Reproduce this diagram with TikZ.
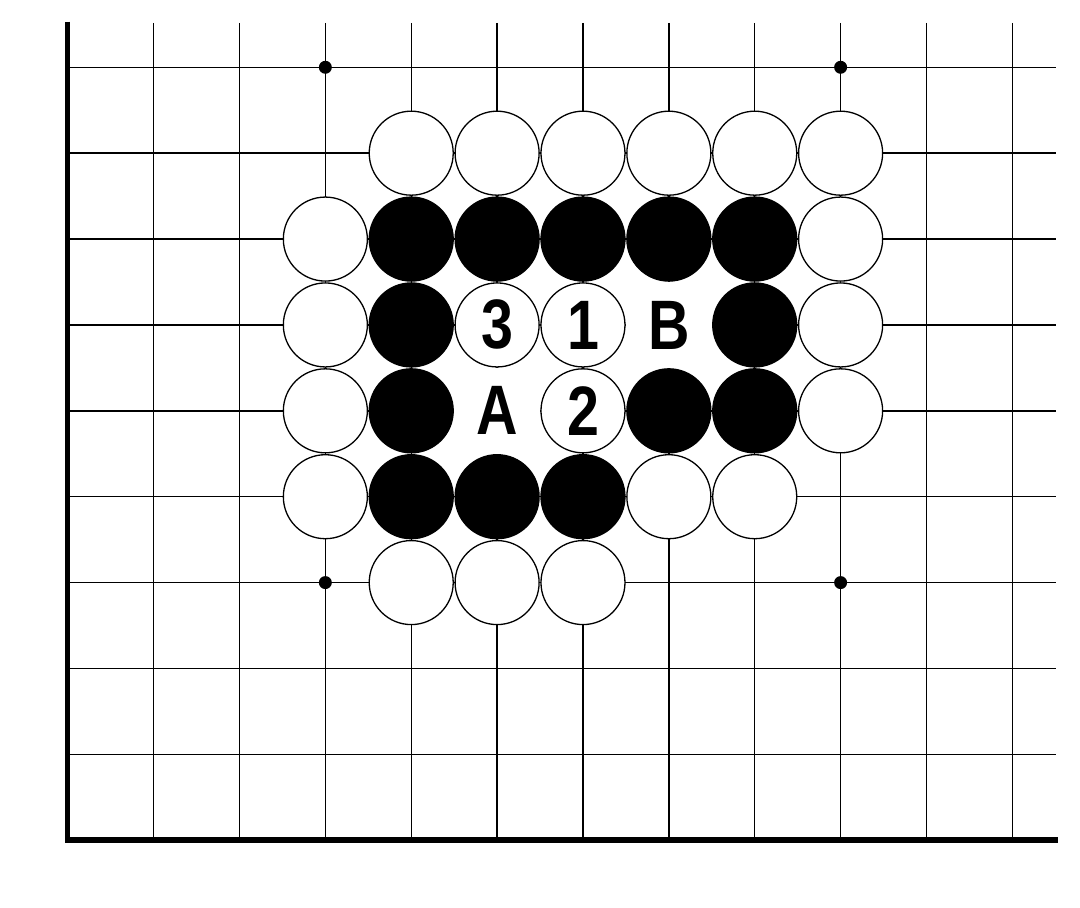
\documentclass[tikz,border=0pt]{standalone}
\usepackage{fontspec}
\usepackage{graphicx}
\setmainfont{Liberation Sans}
\tikzset{
  gridline/.style={line width=1.4pt, black},
  edgeline/.style={line width=5.5pt, black, line join=miter},
  starpt/.style={circle, fill=black, minimum size=13pt, inner sep=0pt},
  wstone/.style={circle, draw=black, fill=white, line width=1.3pt, minimum size=84pt, inner sep=0pt,
    font=\fontsize{70pt}{70pt}\selectfont\bfseries},
  bstone/.style={circle, draw=black, fill=black, line width=1.3pt, minimum size=84pt, inner sep=0pt},
  marklabel/.style={circle, fill=white, minimum size=86pt, inner sep=0pt,
    font=\fontsize{70pt}{70pt}\selectfont\bfseries},
}
\newcommand{\narrow}[1]{\scalebox{0.82}[1]{#1}}
\begin{document}
\begin{tikzpicture}[x=1pt,y=-1pt]
\useasboundingbox (0,0) rectangle (1080,908);
\begin{scope}[x={(85.88pt,0pt)}, y={(0pt,-85.88pt)}, shift={(67.7pt,-67.3pt)}]
  % grid
  \foreach \i in {1,...,11} \draw[gridline] (\i,-0.516) -- (\i,9);
  \foreach \j in {0,...,8} \draw[gridline] (0,\j) -- (11.508,\j);
  \draw[edgeline] (0,-0.531) -- (0,9) -- (11.531,9);
  % star points
  \node[starpt] (s1) at (3,0) {};
  \node[starpt] (s2) at (9,0) {};
  \node[starpt] (s3) at (3,6) {};
  \node[starpt] (s4) at (9,6) {};
  % labels on empty points
  \node[marklabel] (lA) at (5,4) {\narrow{A}};
  \node[marklabel] (lB) at (7,3) {\narrow{B}};
  % white stones
  \foreach \c/\r in {4/1,5/1,6/1,7/1,8/1,9/1,
                     3/2,9/2,
                     3/3,9/3,
                     3/4,9/4,
                     3/5,7/5,8/5,
                     4/6,5/6,6/6}
    \node[wstone] (w\c-\r) at (\c,\r) {};
  % black stones
  \foreach \c/\r in {4/2,5/2,6/2,7/2,8/2,
                     4/3,8/3,
                     4/4,7/4,8/4,
                     4/5,5/5,6/5}
    \node[bstone] (b\c-\r) at (\c,\r) {};
  % numbered white stones
  \node[wstone] (m3) at (5,3) {\narrow{3}};
  \node[wstone] (m1) at (6,3) {\narrow{1}};
  \node[wstone] (m2) at (6,4) {\narrow{2}};
\end{scope}
\end{tikzpicture}
\end{document}
